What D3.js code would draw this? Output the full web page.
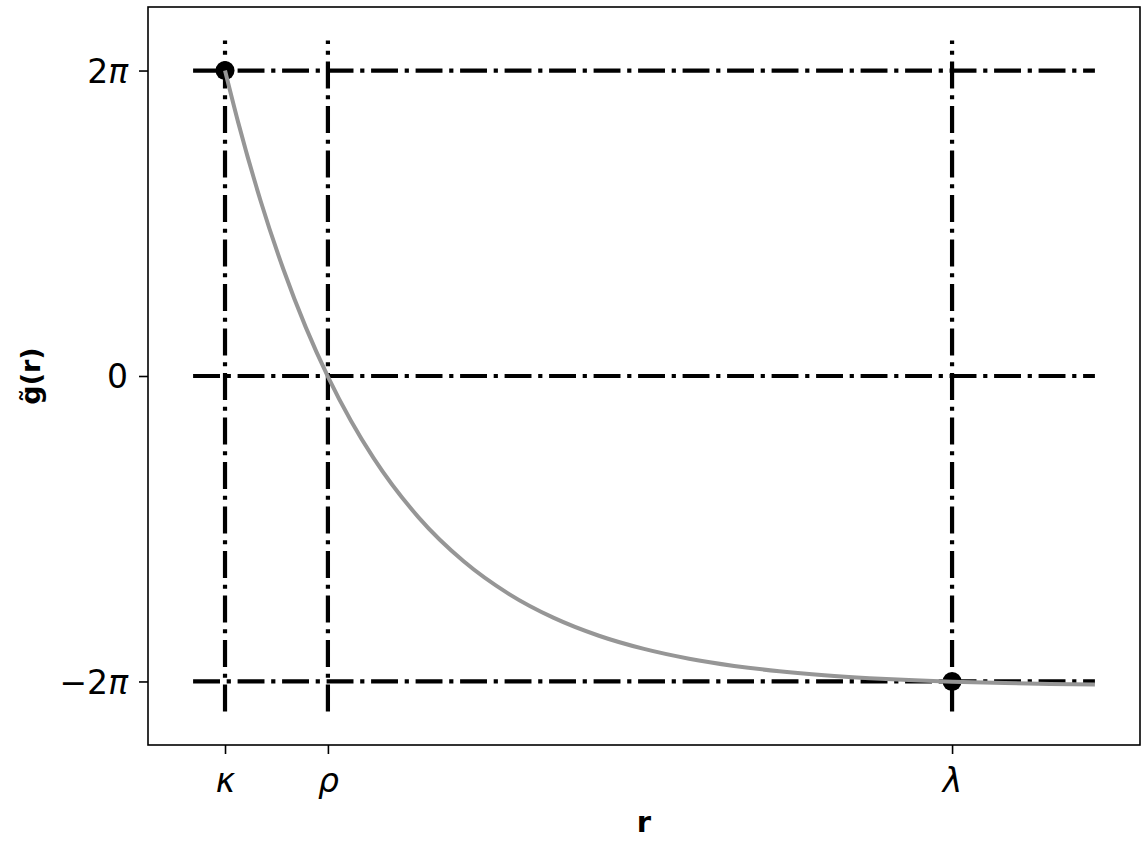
<!DOCTYPE html>
<html>
<head>
<meta charset="utf-8">
<script src="https://cdn.jsdelivr.net/npm/d3@7"></script>
<style>
  body { margin: 0; background: #fff; }
  svg text { font-family: "DejaVu Sans", sans-serif; }
</style>
</head>
<body>
<div class="box"></div>
<script>
// values
const TWO_PI = 2 * Math.PI;
const kappa = 0.354, rho = 1.495, lambda = 8.416;
const xTicks = [kappa, rho, lambda];
const xTickLabels = ["κ", "ρ", "λ"];
const yTicks = [-TWO_PI, 0, TWO_PI];
const yTickLabels = [["−2", "π"], ["0", ""], ["2", "π"]];

// extents of the reference lines
const hRange = [0, 10];        // horizontal lines run over r
const vRange = [-6.9, 6.9];    // vertical lines run over g

// the grey curve g~(r)
const curveR = [0.354, 0.5, 0.75, 1.0, 1.25, 1.5, 1.75, 2.0, 2.5, 3.0, 3.5, 4.0,
                4.5, 5.0, 5.5, 6.0, 6.5, 7.0, 7.5, 8.0, 8.416, 9.0, 9.5, 10.0];
const curveG = [6.284, 5.217, 3.595, 2.201, 1.000, -0.032, -0.920, -1.684, -2.907, -3.811, -4.481, -4.976,
                -5.343, -5.614, -5.815, -5.963, -6.073, -6.155, -6.215, -6.259, -6.287, -6.317, -6.335, -6.348];

// the two black dots
const dotR = [kappa, lambda];
const dotG = [TWO_PI, -TWO_PI];

const w = 1146, h = 844;
const mLeft = 148, mRight = 1140, mTop = 7, mBottom = 745;

const padX = (hRange[1] - hRange[0]) * 0.05;
const padY = (vRange[1] - vRange[0]) * 0.05;

const xScale = d3.scaleLinear()
    .domain([hRange[0] - padX, hRange[1] + padX])
    .range([mLeft, mRight]);
const yScale = d3.scaleLinear()
    .domain([vRange[0] - padY, vRange[1] + padY])
    .range([mBottom, mTop]);

const svg = d3.select(".box")
    .append("svg")
    .attr("width", w)
    .attr("height", h);

const dash = "26.9 6.7 4.2 6.7";

// horizontal dash-dot lines
svg.selectAll(".hline")
    .data(yTicks)
    .enter()
    .append("line")
    .attr("class", "hline")
    .attr("x1", xScale(hRange[0]))
    .attr("x2", xScale(hRange[1]))
    .attr("y1", d => yScale(d))
    .attr("y2", d => yScale(d))
    .style("stroke", "black")
    .style("stroke-width", 4.2)
    .style("stroke-dasharray", dash);

// vertical dash-dot lines (drawn bottom to top)
svg.selectAll(".vline")
    .data(xTicks)
    .enter()
    .append("line")
    .attr("class", "vline")
    .attr("x1", d => xScale(d))
    .attr("x2", d => xScale(d))
    .attr("y1", yScale(vRange[0]))
    .attr("y2", yScale(vRange[1]))
    .style("stroke", "black")
    .style("stroke-width", 4.2)
    .style("stroke-dasharray", dash);

// dots
svg.selectAll(".dot")
    .data(dotR.map((r, i) => [r, dotG[i]]))
    .enter()
    .append("circle")
    .attr("class", "dot")
    .attr("cx", d => xScale(d[0]))
    .attr("cy", d => yScale(d[1]))
    .attr("r", 9.5)
    .style("fill", "black");

// curve
const line = d3.line()
    .x(d => xScale(d[0]))
    .y(d => yScale(d[1]))
    .curve(d3.curveMonotoneX);

svg.append("path")
    .datum(curveR.map((r, i) => [r, curveG[i]]))
    .attr("d", line)
    .style("fill", "none")
    .style("stroke", "#969696")
    .style("stroke-width", 4);

// axes
const xAxis = d3.axisBottom(xScale)
    .tickValues(xTicks)
    .tickFormat((d, i) => xTickLabels[i])
    .tickSizeInner(9)
    .tickSizeOuter(0)
    .tickPadding(8);
const yAxis = d3.axisLeft(yScale)
    .tickValues(yTicks)
    .tickFormat("")
    .tickSizeInner(9)
    .tickSizeOuter(0)
    .tickPadding(11);

const gx = svg.append("g")
    .attr("transform", "translate(0," + mBottom + ")")
    .call(xAxis);
gx.selectAll("text")
    .style("font-size", "33px")
    .style("font-style", "italic")
    .attr("dy", 30);

const gy = svg.append("g")
    .attr("transform", "translate(" + mLeft + ",0)")
    .call(yAxis);
gy.selectAll("text")
    .style("font-size", "33px")
    .attr("dy", "0.36em")
    .each(function(d, i) {
        const t = d3.select(this);
        t.append("tspan").text(yTickLabels[i][0]);
        t.append("tspan").style("font-style", "italic").text(yTickLabels[i][1]);
    });

svg.selectAll(".domain").remove();
svg.selectAll(".tick line").style("stroke-width", 1.6);

// frame
svg.append("rect")
    .attr("x", mLeft)
    .attr("y", mTop)
    .attr("width", mRight - mLeft)
    .attr("height", mBottom - mTop)
    .style("fill", "none")
    .style("stroke", "black")
    .style("stroke-width", 1.6);

// axis names
svg.append("text")
    .attr("x", (mLeft + mRight) / 2)
    .attr("y", 832)
    .attr("text-anchor", "middle")
    .style("font-size", "29px")
    .style("font-weight", "bold")
    .text("r");

svg.append("text")
    .attr("transform", "rotate(-90)")
    .attr("x", -((mTop + mBottom) / 2))
    .attr("y", 40)
    .attr("text-anchor", "middle")
    .style("font-size", "27px")
    .style("font-weight", "bold")
    .text("g\u0303(r)");
</script>
</body>
</html>
